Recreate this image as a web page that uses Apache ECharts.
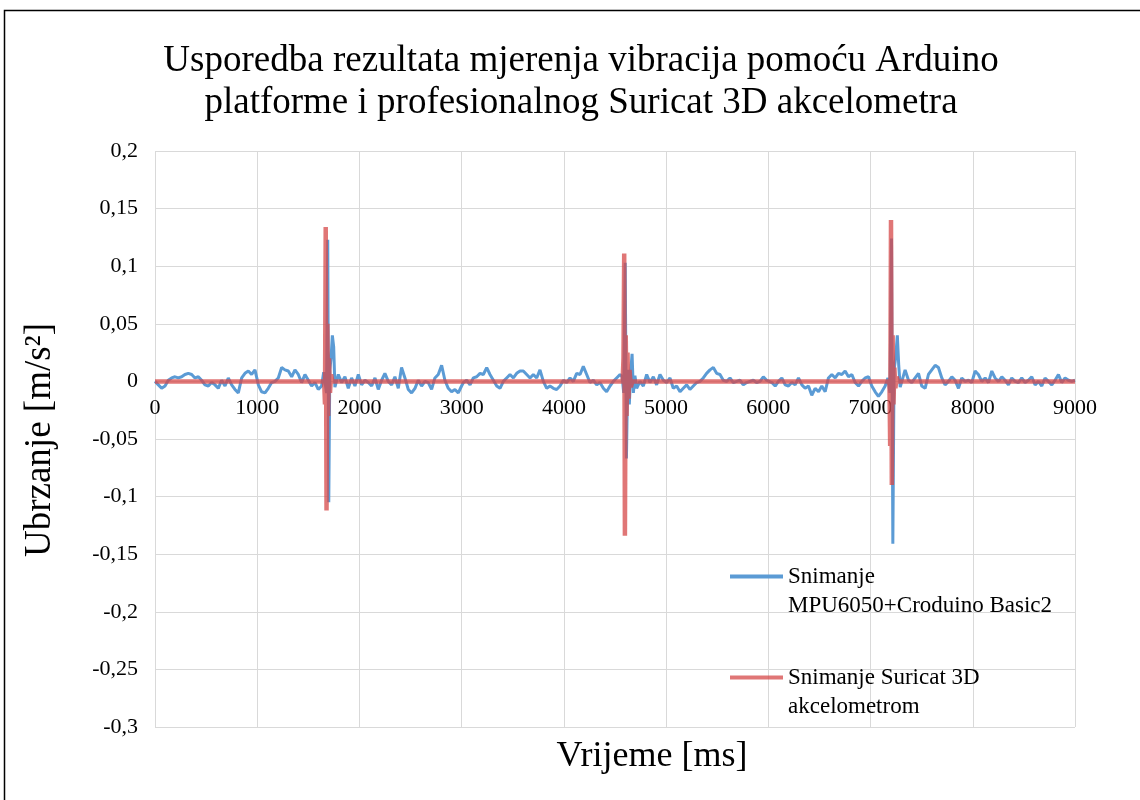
<!DOCTYPE html>
<html>
<head>
<meta charset="utf-8">
<script src="https://cdn.jsdelivr.net/npm/echarts@6/dist/echarts.min.js"></script>
<style>
  html, body { margin: 0; padding: 0; background: #fff; }
  #chart { width: 1140px; height: 800px; }
</style>
</head>
<body>
<div id="chart"></div>
<script>
// vrijeme [ms], ubrzanje [m/s2] - MPU6050 + Croduino
const mpuData = [
  [0, 0], [33, -0.003], [65, -0.006], [98, -0.004], [130, 0.001], [163, 0.003], [196, 0.004], [228, 0.003],
  [261, 0.004], [293, 0.006], [326, 0.007], [359, 0.006], [391, 0.003], [424, 0.004], [456, 0.001], [489, -0.003],
  [522, -0.004], [554, -0.001], [587, -0.003], [619, -0.006], [652, 0.001], [685, -0.004], [717, 0.003], [750, -0.003],
  [782, -0.007], [815, -0.010], [848, 0.003], [880, 0.007], [913, 0.009], [945, 0.006], [978, 0.010], [1011, -0.003],
  [1043, -0.009], [1076, -0.010], [1108, -0.006], [1141, -0.001], [1174, 0], [1206, 0.003], [1239, 0.012], [1271, 0.010],
  [1304, 0.009], [1337, 0.004], [1369, 0.010], [1402, 0.006], [1434, -0.001], [1467, 0.006], [1500, 0.001], [1532, -0.004],
  [1565, -0.001], [1597, -0.007], [1630, -0.004], [1650, 0.008], [1665, 0.009], [1678, -0.010], [1690, 0.123], [1700, -0.105],
  [1710, 0.010], [1722, 0.020], [1735, 0.040], [1748, 0.030], [1760, -0.005], [1793, 0.006], [1826, -0.001], [1858, 0.004],
  [1891, -0.006], [1923, 0.003], [1956, -0.004], [1989, 0.006], [2021, -0.003], [2054, 0.001], [2086, -0.001], [2119, -0.004],
  [2152, 0.003], [2184, -0.007], [2217, 0.001], [2249, 0.007], [2282, 0], [2315, -0.003], [2347, 0.004], [2380, -0.006],
  [2412, 0.012], [2445, 0.003], [2478, -0.007], [2510, -0.010], [2543, -0.006], [2575, 0.001], [2608, -0.004], [2641, 0],
  [2673, -0.001], [2706, -0.007], [2738, 0.003], [2771, 0.006], [2804, 0.014], [2836, 0.001], [2869, -0.006], [2901, -0.009],
  [2934, -0.007], [2967, -0.010], [2999, -0.004], [3017, -0.001], [3049, 0.001], [3082, -0.003], [3114, 0.003], [3147, 0.004],
  [3180, 0.007], [3212, 0.006], [3245, 0.012], [3277, 0.006], [3310, 0.001], [3343, -0.004], [3375, -0.006], [3408, 0],
  [3440, 0.003], [3473, 0.006], [3506, 0.003], [3538, 0.007], [3571, 0.009], [3603, 0.009], [3636, 0.006], [3669, 0.003],
  [3701, 0.006], [3734, 0.003], [3766, 0.010], [3799, 0], [3832, -0.006], [3864, -0.004], [3897, -0.006], [3929, -0.007],
  [3962, -0.004], [3995, 0.001], [4027, -0.001], [4060, 0.003], [4092, 0], [4125, 0.007], [4158, 0.006], [4190, 0.013],
  [4223, 0.006], [4255, -0.001], [4288, 0.001], [4321, -0.003], [4353, -0.001], [4386, -0.006], [4418, -0.009], [4451, -0.004],
  [4484, 0], [4516, 0.003], [4549, 0.006], [4570, 0.004], [4585, -0.010], [4600, 0.103], [4612, -0.067], [4625, 0.010],
  [4640, -0.020], [4655, 0.010], [4667, 0.024], [4680, -0.010], [4695, 0.005], [4712, -0.006], [4744, 0], [4777, -0.004],
  [4810, 0.006], [4842, -0.001], [4875, 0.004], [4907, -0.003], [4940, 0.006], [4973, 0.001], [5005, -0.001], [5038, 0.003],
  [5070, -0.006], [5103, -0.004], [5136, -0.009], [5168, -0.006], [5201, -0.003], [5233, -0.007], [5266, -0.004], [5299, -0.001],
  [5331, 0], [5364, 0.003], [5396, 0.007], [5429, 0.010], [5462, 0.012], [5494, 0.007], [5527, 0.006], [5559, 0.001],
  [5592, 0], [5625, 0.003], [5657, -0.001], [5690, 0], [5722, 0.001], [5755, -0.003], [5788, -0.001], [5820, 0],
  [5853, 0.001], [5885, -0.001], [5918, 0], [5951, 0.004], [5983, 0.001], [6002, 0], [6034, -0.001], [6067, -0.004],
  [6099, 0], [6132, 0.003], [6165, -0.003], [6197, -0.004], [6230, -0.001], [6262, -0.003], [6295, 0.003], [6328, -0.003],
  [6360, -0.006], [6393, -0.004], [6425, -0.012], [6458, -0.006], [6491, -0.009], [6523, -0.004], [6556, -0.009], [6588, 0.003],
  [6621, 0.006], [6654, 0.003], [6686, 0.007], [6719, 0.006], [6751, 0.009], [6784, 0.004], [6817, 0.006], [6849, -0.001],
  [6882, -0.004], [6914, 0], [6947, 0.003], [6980, 0.004], [7012, -0.004], [7045, -0.009], [7077, -0.013], [7110, -0.009],
  [7143, -0.004], [7170, 0.003], [7190, -0.010], [7205, 0.124], [7218, -0.141], [7230, 0.010], [7245, 0.020], [7262, 0.040],
  [7275, 0.015], [7290, -0.005], [7338, 0.010], [7371, 0.001], [7403, -0.001], [7436, 0.003], [7469, 0.007], [7501, -0.004],
  [7534, -0.006], [7566, 0.006], [7599, 0.010], [7632, 0.014], [7664, 0.012], [7697, 0.003], [7729, -0.003], [7762, 0],
  [7795, 0.004], [7827, 0.001], [7860, -0.006], [7892, 0.003], [7925, 0], [7958, 0.001], [7990, -0.001], [8023, 0.009],
  [8055, 0.006], [8088, 0], [8121, 0.003], [8153, -0.001], [8186, 0.009], [8218, 0.003], [8251, 0], [8284, 0.004],
  [8316, 0.001], [8349, -0.003], [8381, 0.003], [8414, 0], [8447, -0.001], [8479, 0.003], [8512, -0.001], [8544, 0.001],
  [8577, 0.004], [8610, -0.003], [8642, 0], [8675, -0.004], [8707, 0.003], [8740, 0], [8773, -0.003], [8805, 0.001],
  [8838, 0.006], [8870, -0.001], [8903, 0.003], [8936, 0.001], [8968, 0], [9000, 0.001]
];

// vrijeme [ms], ubrzanje [m/s2] - Suricat 3D
const suricatData = [
  [0, 0], [1655, 0], [1663, -0.020], [1670, 0.134], [1678, -0.112], [1686, 0.050], [1694, -0.030], [1702, 0.020],
  [1712, -0.010], [1722, 0.006], [1735, 0], [4575, 0], [4583, 0.020], [4590, 0.111], [4597, -0.134], [4605, 0.040],
  [4613, -0.030], [4622, 0.025], [4632, -0.015], [4642, 0.010], [4655, -0.005], [4670, 0], [7185, 0], [7192, -0.056],
  [7200, 0.140], [7208, -0.090], [7216, 0.040], [7224, -0.020], [7233, 0.012], [7243, -0.006], [7255, 0.004], [7270, 0],
  [9000, 0]
];

const seriesNames = ['Snimanje\nMPU6050+Croduino Basic2', 'Snimanje Suricat 3D\nakcelometrom'];
const titleText = 'Usporedba rezultata mjerenja vibracija pomoću Arduino\nplatforme i profesionalnog Suricat 3D akcelometra';

const FONT = '"Liberation Serif", "Times New Roman", serif';
const BLUE = '#5b9bd5';
const RED = 'rgba(214,72,72,0.75)';

let myChart = echarts.init(document.getElementById('chart'));

// y = 0 lezi na 0.4 visine grida (0.2 / 0.5)
const gridTop = 151, gridBottom = 727;
const zeroOffset = -(gridBottom - (gridTop + (gridBottom - gridTop) * 0.4));

let option = {
  animation: false,
  backgroundColor: '#fff',
  title: {
    text: titleText,
    left: 576,
    top: 35,
    textAlign: 'center',
    textStyle: { fontFamily: FONT, fontSize: 37, fontWeight: 'normal', color: '#000', lineHeight: 42 }
  },
  legend: {
    orient: 'vertical',
    left: 730,
    top: 533,
    padding: 0,
    itemGap: 14,
    itemWidth: 53,
    itemHeight: 4,
    icon: 'rect',
    formatter: name => '\n' + name,
    textStyle: { fontFamily: FONT, fontSize: 23, color: '#000', lineHeight: 29 },
    data: seriesNames
  },
  grid: { left: 155, right: 65, top: gridTop, bottom: 800 - gridBottom },
  xAxis: {
    type: 'value',
    min: 0,
    max: 9000,
    interval: 1000,
    offset: zeroOffset,
    axisLine: { onZero: false, lineStyle: { color: '#d9d9d9', width: 1 } },
    axisTick: { show: false },
    axisLabel: { fontFamily: FONT, fontSize: 22, color: '#000', margin: 16, formatter: v => String(v) },
    splitLine: { lineStyle: { color: '#d9d9d9', width: 1 } }
  },
  yAxis: {
    type: 'value',
    min: -0.3,
    max: 0.2,
    interval: 0.05,
    axisLine: { show: false },
    axisTick: { show: false },
    axisLabel: {
      fontFamily: FONT, fontSize: 22, color: '#000', margin: 17,
      formatter: v => String(parseFloat(v.toFixed(2))).replace('.', ',')
    },
    splitLine: { lineStyle: { color: '#d9d9d9', width: 1 } }
  },
  series: [
    {
      name: seriesNames[0],
      type: 'line',
      data: mpuData,
      showSymbol: false,
      symbol: 'none',
      lineStyle: { color: BLUE, width: 3 },
      itemStyle: { color: BLUE }
    },
    {
      name: seriesNames[1],
      type: 'line',
      data: suricatData,
      showSymbol: false,
      symbol: 'none',
      lineStyle: { color: RED, width: 4.5 },
      itemStyle: { color: RED }
    }
  ],
  graphic: [
    {
      type: 'rect',
      silent: true,
      shape: { x: 4.5, y: 10.5, width: 1160, height: 820 },
      style: { fill: 'none', stroke: '#000', lineWidth: 1.5 }
    },
    {
      type: 'text',
      x: 652,
      y: 757,
      style: { text: 'Vrijeme [ms]', font: '36px ' + FONT, fill: '#000', textAlign: 'center', textVerticalAlign: 'middle' }
    },
    {
      type: 'text',
      x: 40,
      y: 440,
      rotation: Math.PI / 2,
      style: { text: 'Ubrzanje [m/s²]', font: '37px ' + FONT, fill: '#000', textAlign: 'center', textVerticalAlign: 'middle' }
    }
  ]
};

myChart.setOption(option);
</script>
</body>
</html>
